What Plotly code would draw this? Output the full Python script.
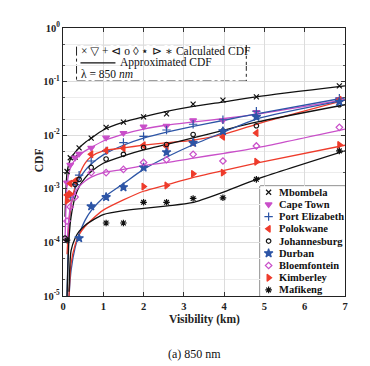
import plotly.graph_objects as go

# ---------------- data ----------------
CITIES = ["Mbombela", "Cape Town", "Port Elizabeth", "Polokwane", "Johannesburg",
          "Durban", "Bloemfontein", "Kimberley", "Mafikeng"]

# visibility (km) at which calculated CDF points are shown
CALC_VIS = [0.05, 0.1, 0.18, 0.3, 0.4, 0.7, 1.07, 1.5, 2.0, 2.57, 3.23, 3.97, 4.8, 6.86]

CALC_MBOMBELA = [None, 2.1e-3, 3.8e-3, 3.9e-3, 5.8e-3, 8.8e-3, 1.4e-2, 1.75e-2, 2.2e-2, 2.5e-2, 3.8e-2, 4.5e-2, 5.2e-2, 8.3e-2]
CALC_CAPETOWN = [None, 1.3e-3, 2.8e-3, 3.8e-3, 4.5e-3, 5.8e-3, 9.0e-3, 1.1e-2, 1.45e-2, 1.5e-2, 1.9e-2, 1.9e-2, 2.7e-2, 4.7e-2]
CALC_PORTELIZ = [None, None, 7e-4, 1.2e-3, 1.8e-3, 3.3e-3, 5.1e-3, 7.3e-3, 9.5e-3, 1.25e-2, 1.6e-2, 1.94e-2, 2.8e-2, 4.9e-2]
CALC_POLOKWANE = [None, 7.7e-4, 1.25e-3, 1.4e-3, None, 4.4e-3, 5.2e-3, 5.7e-3, 6.5e-3, 6.2e-3, 7.3e-3, 9.3e-3, 1.1e-2, 4.6e-2]
CALC_JOBURG = [1.2e-4, None, None, 1.2e-3, 1.5e-3, 2.5e-3, 3.6e-3, 4.4e-3, 5.9e-3, 6.7e-3, 1.03e-2, 1.2e-2, 1.5e-2, 3.7e-2]
CALC_DURBAN = [None, None, None, None, 1.2e-4, 4.7e-4, 7.0e-4, 1.07e-3, 2.5e-3, 4.8e-3, 7.2e-3, 1.19e-2, 2.2e-2, 4.2e-2]
CALC_BLOEM = [None, 2.5e-4, 4.6e-4, 7e-4, None, 2.0e-3, 2.0e-3, 2.3e-3, 3.1e-3, 3.5e-3, 4.4e-3, 3.3e-3, 6.3e-3, 1.4e-2]
CALC_KIMBERLEY = [None, 6e-4, 8e-4, None, None, None, None, None, 1.1e-3, 1.15e-3, 1.9e-3, 2.0e-3, 3.2e-3, 6.6e-3]
CALC_MAFIKENG = [None, 1.1e-4, None, None, None, None, 2.3e-4, 2.3e-4, 5.6e-4, 5.6e-4, 6.6e-4, 6.8e-4, 1.5e-3, 5.1e-3]

# visibility (km) grid for the approximated CDF curves
LINE_VIS = [0.05, 0.1, 0.15, 0.2, 0.3, 0.4, 0.55, 0.7, 1.0, 1.5, 2.0, 2.6, 3.2, 4.0, 4.8, 7.0]

LINE_MBOMBELA = [3e-4, 2.0e-3, 3.0e-3, 3.8e-3, 4.8e-3, 5.8e-3, 7.3e-3, 8.8e-3, 1.25e-2, 1.75e-2, 2.2e-2, 2.8e-2, 3.4e-2, 4.2e-2, 5.2e-2, 8.3e-2]
LINE_CAPETOWN = [1e-4, 1.2e-3, 2.0e-3, 2.6e-3, 3.5e-3, 4.2e-3, 5.1e-3, 5.9e-3, 7.8e-3, 1.05e-2, 1.3e-2, 1.55e-2, 1.75e-2, 2.05e-2, 2.45e-2, 4.6e-2]
LINE_PORTELIZ = [None, 1e-5, 2e-4, 5e-4, 1.0e-3, 1.5e-3, 2.2e-3, 2.9e-3, 4.3e-3, 6.5e-3, 8.8e-3, 1.15e-2, 1.45e-2, 1.9e-2, 2.5e-2, 5.0e-2]
LINE_POLOKWANE = [None, 6e-5, 2.5e-4, 5e-4, 1.1e-3, 1.8e-3, 3.0e-3, 4.0e-3, 5.1e-3, 5.8e-3, 6.5e-3, 7.3e-3, 8.0e-3, 1.05e-2, 1.6e-2, 4.5e-2]
LINE_JOBURG = [None, 1e-5, 1.2e-4, 3e-4, 7e-4, 1.1e-3, 1.6e-3, 2.1e-3, 3.0e-3, 4.1e-3, 5.3e-3, 6.8e-3, 8.8e-3, 1.25e-2, 1.75e-2, 3.7e-2]
LINE_DURBAN = [None, None, 1e-5, 3e-5, 8e-5, 1.4e-4, 2.6e-4, 3.9e-4, 6.8e-4, 1.25e-3, 2.3e-3, 4.0e-3, 6.5e-3, 1.15e-2, 2.0e-2, 4.5e-2]
LINE_BLOEM = [None, 1e-4, 3e-4, 5.5e-4, 8.5e-4, 1.1e-3, 1.4e-3, 1.65e-3, 2.0e-3, 2.3e-3, 2.7e-3, 3.1e-3, 3.7e-3, 4.6e-3, 5.8e-3, 1.3e-2]
LINE_KIMBERLEY = [None, None, 1e-5, 4e-5, 9e-5, 1.4e-4, 2.0e-4, 2.6e-4, 4.0e-4, 6.2e-4, 9.0e-4, 1.2e-3, 1.6e-3, 2.2e-3, 3.0e-3, 6.5e-3]
LINE_MAFIKENG = [None, None, 1.2e-5, 7e-5, 1.2e-4, 1.6e-4, 2.1e-4, 2.5e-4, 3.3e-4, 3.9e-4, 4.3e-4, 4.8e-4, 5.5e-4, 8.8e-4, 1.5e-3, 5.1e-3]

X_TICKS = [0, 1, 2, 3, 4, 5, 6, 7]
Y_TICKVALS = [1e-5, 1e-4, 1e-3, 1e-2, 1e-1, 1e0]
Y_TICKTEXT = ["10<sup>-5</sup>", "10<sup>-4</sup>", "10<sup>-3</sup>", "10<sup>-2</sup>",
              "10<sup>-1</sup>", "10<sup>0</sup>"]

CALC = [CALC_MBOMBELA, CALC_CAPETOWN, CALC_PORTELIZ, CALC_POLOKWANE, CALC_JOBURG,
        CALC_DURBAN, CALC_BLOEM, CALC_KIMBERLEY, CALC_MAFIKENG]
LINES = [LINE_MBOMBELA, LINE_CAPETOWN, LINE_PORTELIZ, LINE_POLOKWANE, LINE_JOBURG,
         LINE_DURBAN, LINE_BLOEM, LINE_KIMBERLEY, LINE_MAFIKENG]

# ---------------- styles ----------------
BLACK = "#111111"
MAGENTA = "#c94fc9"
BLUE = "#2d55a6"
RED = "#ee3b2b"
LINE_COLORS = [BLACK, MAGENTA, BLUE, RED, BLACK, BLUE, MAGENTA, RED, BLACK]
MARKER_COLORS = [BLACK, MAGENTA, BLUE, RED, BLACK, BLUE, MAGENTA, RED, BLACK]
SYMBOLS = ["x-thin-open", "triangle-down", "cross-thin-open", "triangle-left", "circle-open",
           "star", "diamond-open", "triangle-right", "asterisk-open"]
SIZES = [5, 6, 6, 6, 4.5, 6.5, 5, 6, 5.5]

FONT = "Liberation Serif, DejaVu Serif, serif"

fig = go.Figure()

for name, ys, col in zip(CITIES, LINES, LINE_COLORS):
    fig.add_trace(go.Scatter(x=LINE_VIS, y=ys, mode="lines", showlegend=False,
                             line=dict(color=col, width=1.3, shape="spline", smoothing=0.7),
                             connectgaps=False, hoverinfo="skip"))

for name, ys, col, sym, sz in zip(CITIES, CALC, MARKER_COLORS, SYMBOLS, SIZES):
    fig.add_trace(go.Scatter(x=CALC_VIS, y=ys, mode="markers", name=name, showlegend=False,
                             marker=dict(symbol=sym, color=col, size=sz,
                                         line=dict(color=col, width=1.2))))

# manual compact legend on an auxiliary axis (one row per city)
rows = list(range(len(CITIES)))
for i, (name, col, sym, sz) in enumerate(zip(CITIES, MARKER_COLORS, SYMBOLS, SIZES)):
    fig.add_trace(go.Scatter(x=[0.1], y=[rows[i]], xaxis="x2", yaxis="y2", mode="markers",
                             showlegend=False, hoverinfo="skip",
                             marker=dict(symbol=sym, color=col, size=sz,
                                         line=dict(color=col, width=1.2))))
    fig.add_annotation(x=0.2, y=rows[i], xref="x2", yref="y2", text="<b>%s</b>" % name,
                       showarrow=False, xanchor="left", yanchor="middle",
                       font=dict(family=FONT, size=10.5, color="#111"))

axis_common = dict(showline=True, linecolor="#222", linewidth=1.2, mirror="ticks",
                   ticks="inside", ticklen=4, tickcolor="#333",
                   gridcolor="#dcdcdc", gridwidth=0.8, zeroline=False,
                   tickfont=dict(family=FONT, size=10.5, color="#222"))

fig.update_layout(
    width=370, height=366,
    margin=dict(l=54.5, r=33, t=15, b=78),
    paper_bgcolor="white", plot_bgcolor="white",
    showlegend=False,
    xaxis=dict(range=[0, 7], tickvals=X_TICKS, ticktext=["<b>%d</b>" % v for v in X_TICKS],
               **axis_common),
    yaxis=dict(type="log", range=[-5, 0], tickvals=Y_TICKVALS,
               ticktext=["<b>%s</b>" % t for t in Y_TICKTEXT],
               minor=dict(ticks="inside", ticklen=2, tickcolor="#555", showgrid=True,
                          gridcolor="#ececec", gridwidth=0.6),
               **axis_common),
    xaxis2=dict(domain=[0.699, 1.0], range=[0, 1], anchor="y2", visible=False, fixedrange=True),
    yaxis2=dict(domain=[0, 0.41], range=[8.5, -0.5], anchor="x2", visible=False, fixedrange=True),
)

# legend frame and info box
fig.add_shape(type="rect", xref="paper", yref="paper", x0=0.699, x1=1.0, y0=0.0, y1=0.41,
              line=dict(color="#111", width=1), fillcolor="white", layer="between")
fig.add_shape(type="rect", xref="paper", yref="paper", x0=0.048, x1=0.65, y0=0.802, y1=0.938,
              line=dict(color="#222", width=1, dash="dashdot"), fillcolor="white", layer="between")
fig.add_shape(type="line", xref="paper", yref="paper", x0=0.062, x1=0.186, y0=0.870, y1=0.870,
              line=dict(color="#111", width=1.3))

fig.add_annotation(x=0.058, y=0.916, xref="paper", yref="paper", showarrow=False,
                   xanchor="left", yanchor="middle",
                   text="× ▽ + ⊲ o ◊ ⋆ ⊳ ∗ Calculated CDF",
                   font=dict(family=FONT, size=11.5, color="#111"))
fig.add_annotation(x=0.195, y=0.870, xref="paper", yref="paper", showarrow=False,
                   xanchor="left", yanchor="middle", text="Approximated CDF",
                   font=dict(family=FONT, size=11.5, color="#111"))
fig.add_annotation(x=0.058, y=0.828, xref="paper", yref="paper", showarrow=False,
                   xanchor="left", yanchor="middle", text="λ = 850 <i>nm</i>",
                   font=dict(family=FONT, size=11.5, color="#111"))

# axis titles and caption
fig.add_annotation(x=-0.115, y=0.505, xref="paper", yref="paper", showarrow=False,
                   text="<b>CDF</b>", textangle=-90,
                   font=dict(family=FONT, size=11.5, color="#222"))
fig.add_annotation(x=0.5, y=-0.088, xref="paper", yref="paper", showarrow=False,
                   text="<b>Visibility (km)</b>", yanchor="middle",
                   font=dict(family=FONT, size=11.5, color="#222"))
fig.add_annotation(x=0.467, y=-0.216, xref="paper", yref="paper", showarrow=False,
                   text="(a) 850 nm", yanchor="middle",
                   font=dict(family=FONT, size=12, color="#111"))

fig.write_html("out.html")
